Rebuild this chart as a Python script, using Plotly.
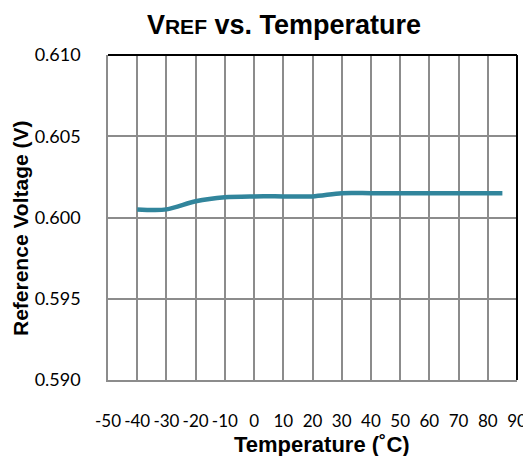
import plotly.graph_objects as go

temperature_c = [-40, -30, -20, -10, 0, 10, 20, 30, 40, 50, 60, 70, 80, 85]
vref_v = [0.6005, 0.6005, 0.6010, 0.60125, 0.6013, 0.6013, 0.6013, 0.6015,
          0.6015, 0.6015, 0.6015, 0.6015, 0.6015, 0.6015]
x_ticks = list(range(-50, 91, 10))
y_ticks = [0.590, 0.595, 0.600, 0.605, 0.610]

# page body has an 8px margin, so the figure is 8px smaller than the window
W, H = 523, 448
L, R, T, B = 100, 14, 47, 76
PW, PH = W - L - R, H - T - B

fig = go.Figure()
fig.add_trace(go.Scatter(
    x=temperature_c, y=vref_v, mode="lines",
    line=dict(color="#31859C", width=4.5, shape="spline", smoothing=0.8),
    hoverinfo="skip", showlegend=False,
))

y_tick_font = dict(family="Lato, 'Open Sans', sans-serif", size=18, color="#000")
x_tick_font = dict(family="Lato, 'Open Sans', sans-serif", size=17, color="#000")
grid = "#8c8c8c"

fig.update_layout(
    width=W, height=H,
    margin=dict(l=L, r=R, t=T, b=B, pad=0, autoexpand=False),
    paper_bgcolor="white", plot_bgcolor="white",
    title=dict(
        text="V<span style='font-size:21px'>REF</span> vs. Temperature",
        font=dict(family="Arial, 'Liberation Sans', sans-serif", size=27, color="#000", weight="bold"),
        x=276 / W, xanchor="center", xref="container",
        y=1 - 17 / H, yanchor="middle", yref="container",
    ),
    xaxis=dict(
        range=[-50, 90], tickvals=x_ticks, ticktext=[str(v) for v in x_ticks],
        showgrid=True, gridcolor=grid, gridwidth=1.5,
        showline=True, linecolor=grid, linewidth=1.5,
        zeroline=False, ticks="", tickfont=x_tick_font, ticklabelstandoff=25,
        tickangle=0, ticklabeloverflow="allow", automargin=False, fixedrange=True,
    ),
    yaxis=dict(
        range=[0.590, 0.610], tickvals=y_ticks, tickformat=".3f",
        showgrid=True, gridcolor=grid, gridwidth=1.5,
        showline=True, linecolor=grid, linewidth=1.5,
        zeroline=False, ticks="", tickfont=y_tick_font, ticklabelstandoff=22,
        ticklabeloverflow="allow", automargin=False, fixedrange=True,
    ),
    shapes=[
        dict(type="line", xref="paper", yref="paper", x0=0, x1=1, y0=1, y1=1,
             line=dict(color="#000", width=2)),
        dict(type="line", xref="paper", yref="paper", x0=1, x1=1, y0=0, y1=1,
             line=dict(color="#000", width=2)),
    ],
    annotations=[
        dict(text="<b>Temperature (˚C)</b>", xref="paper", yref="paper",
             x=(314 - L) / PW, y=(H - B - 436) / PH,
             xanchor="center", yanchor="middle", showarrow=False,
             font=dict(family="Arial, 'Liberation Sans', sans-serif", size=22, color="#000")),
        dict(text="<b>Reference Voltage (V)</b>", xref="paper", yref="paper",
             x=(12 - L) / PW, y=(H - B - 220) / PH,
             xanchor="center", yanchor="middle", textangle=-90, showarrow=False,
             font=dict(family="Arial, 'Liberation Sans', sans-serif", size=21, color="#000")),
    ],
)

fig.write_html("out.html")
